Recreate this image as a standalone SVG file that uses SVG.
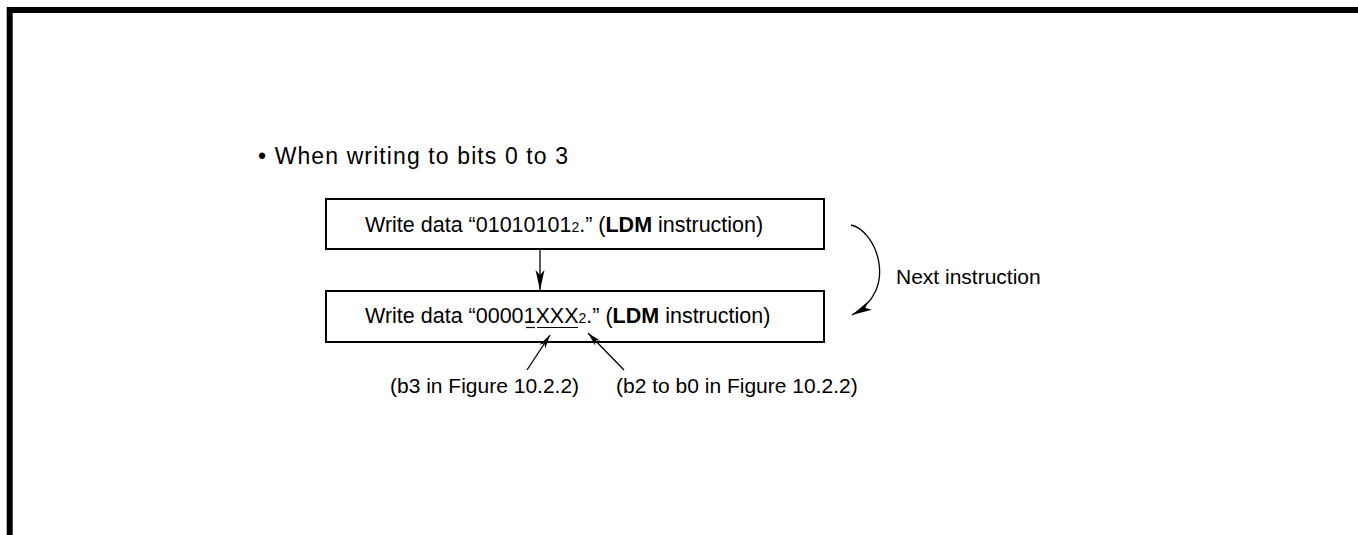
<svg xmlns="http://www.w3.org/2000/svg" width="1358" height="535" viewBox="0 0 1358 535">
<style>
text{font-family:"Liberation Sans",Arial,sans-serif;font-size:21.5px;fill:#000}
.b{font-weight:bold}
.sub{font-size:14px}
.box{fill:#fff;stroke:#000;stroke-width:2}
.ln{fill:none;stroke:#000;stroke-width:1.3}
.ul{stroke:#000;stroke-width:1.2}
</style>
<defs>
<marker id="ah" viewBox="-20 -5 20 10" refX="0" refY="0" markerWidth="20" markerHeight="10" markerUnits="userSpaceOnUse" orient="auto">
<path d="M0,0 L-20,-4.5 L-15,0 L-20,4.5 Z" fill="#000"/>
</marker>
<marker id="as" viewBox="-14 -4 14 8" refX="0" refY="0" markerWidth="14" markerHeight="8" markerUnits="userSpaceOnUse" orient="auto">
<path d="M0,0 L-14,-3.5 L-10,0 L-14,3.5 Z" fill="#000"/>
</marker>
</defs>
<rect width="1358" height="535" fill="#fff"/>
<path d="M9.7,535 V10 H1358" fill="none" stroke="#000" stroke-width="6"/>
<text x="258" y="164" textLength="310" lengthAdjust="spacing" style="font-size:23px">• When writing to bits 0 to 3</text>
<g id="node1">
<rect class="box" x="326" y="199" width="498" height="50"/>
<text x="365" y="232">Write data “01010101<tspan class="sub">2</tspan>.” (<tspan class="b">LDM</tspan> instruction)</text>
</g>
<g id="node2">
<rect class="box" x="326" y="291" width="498" height="51"/>
<text x="365" y="323">Write data “00001XXX<tspan class="sub">2</tspan>.” (<tspan class="b">LDM</tspan> instruction)</text>
<line class="ul" x1="526" y1="327.5" x2="535" y2="327.5"/>
<line class="ul" x1="537" y1="327.5" x2="578" y2="327.5"/>
</g>
<g id="label-next">
<text x="896" y="284" style="font-size:21px">Next instruction</text>
</g>
<g id="label-b3">
<text x="390" y="393" style="font-size:21px">(b3 in Figure 10.2.2)</text>
</g>
<g id="label-b2">
<text x="616" y="393" style="font-size:21px">(b2 to b0 in Figure 10.2.2)</text>
</g>
<g id="connectors">
<line class="ln" x1="540" y1="249" x2="540" y2="290" marker-end="url(#ah)"/>
<path class="ln" d="M851,225 C876,230 900,290 852,315" marker-end="url(#ah)"/>
<line class="ln" x1="527" y1="370" x2="550" y2="335" marker-end="url(#as)"/>
<line class="ln" x1="624" y1="370" x2="588" y2="333" marker-end="url(#as)"/>
</g>
</svg>
